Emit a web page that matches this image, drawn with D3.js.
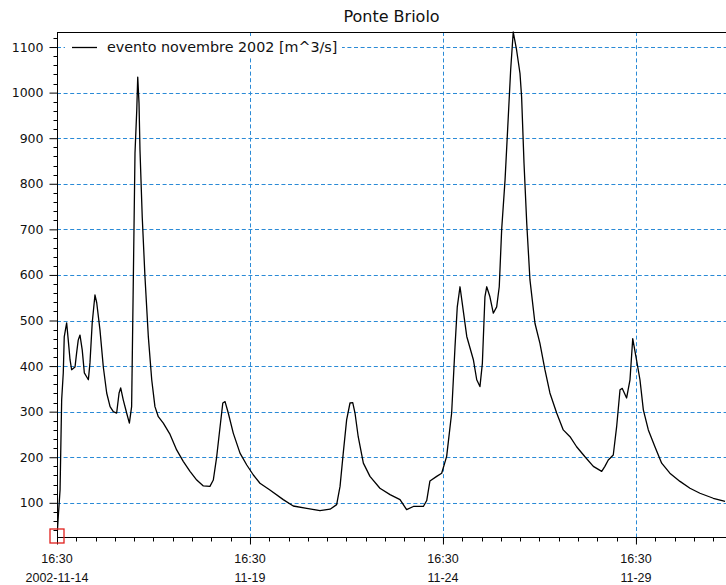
<!DOCTYPE html>
<html>
<head>
<meta charset="utf-8">
<script src="https://cdn.jsdelivr.net/npm/d3@7"></script>
<style>
  body { margin: 0; background: #fff; }
  svg { display: block; font-family: "DejaVu Sans", sans-serif; }
</style>
</head>
<body>
<svg id="mainSvg"></svg>
<script>
var WIDTH = 726;
var HEIGHT = 585;
var LEFT = 57, RIGHT = 726, TOP = 32, BOTTOM = 537;

var TITLE = "Ponte Briolo";
var SERIES_NAME = "evento novembre 2002 [m^3/s]";
var START = new Date(2002, 10, 14, 16, 30);
var END_HOURS = 416;

// hours after 2002-11-14 16:30, and discharge in m^3/s
var HOURS = [0, 0.8, 1.9, 2.9, 3.9, 4.5, 6.0, 7.0, 8.1, 9.1, 11.2, 12.2, 13.2, 14.3, 15.7, 17.0,
  18.5, 19.5, 20.5, 21.9, 23.6, 24.7, 26.7, 28.8, 30.9, 33.0, 35.0, 37.1, 38.6, 39.6, 41.2,
  43.3, 45.0, 46.4, 47.4, 48.5, 49.6, 50.2, 51.0, 51.6, 53.0, 54.7, 56.8, 58.9, 60.9, 63.0,
  66.1, 70.3, 74.4, 78.5, 82.7, 86.9, 91.0, 95.1, 97.2, 99.3, 101.4, 103.1, 104.5, 106.5,
  109.6, 113.8, 118.0, 122.1, 126.2, 132.4, 140.7, 146.9, 155.3, 163.5, 169.8, 173.9, 176.0,
  178.0, 180.1, 182.2, 183.9, 185.3, 187.3, 190.5, 194.6, 200.8, 207.1, 213.3, 217.4, 221.6,
  227.8, 229.9, 231.9, 236.1, 239.2, 242.3, 245.4, 247.5, 248.9, 250.6, 252.3, 254.8, 258.9,
  261.0, 263.0, 264.5, 266.1, 267.2, 269.2, 271.3, 273.4, 275.0, 276.5, 278.6, 280.2, 282.1,
  283.7, 285.8, 287.9, 288.9, 290.4, 292.1, 294.1, 297.2, 300.3, 303.4, 306.5, 310.7, 314.8,
  319.0, 323.1, 328.3, 333.5, 338.7, 340.7, 342.8, 345.9, 348.0, 350.1, 351.5, 354.2, 356.3,
  358.0, 360.0, 362.5, 364.6, 367.7, 371.8, 376.0, 381.1, 387.4, 393.6, 399.8, 408.1, 415.4];
var FLOW = [25, 70, 128, 326, 385, 464, 495, 457, 414, 392, 398, 429, 457, 468, 435, 385,
  376, 370, 407, 495, 556, 539, 480, 398, 341, 311, 300, 297, 341, 352, 326,
  297, 275, 311, 574, 867, 962, 1034, 977, 874, 727, 596, 464, 370, 311, 289,
  275, 250, 216, 191, 169, 150, 137, 136, 150, 201, 267, 319, 322, 297,
  253, 209, 183, 161, 143, 128, 107, 93, 88, 83, 86, 96, 136,
  209, 282, 319, 320, 297, 245, 187, 158, 132, 118, 107, 85, 92,
  92, 105, 148, 158, 165, 202, 297, 443, 530, 574, 530, 465, 414,
  370, 355, 406, 552, 574, 552, 516, 530, 574, 699, 808, 918, 1050,
  1133, 1093, 1042, 991, 845, 713, 589, 494, 450, 392, 341, 297, 260,
  245, 223, 201, 180, 169, 180, 194, 205, 267, 348, 351, 330, 370,
  460, 421, 370, 304, 260, 223, 187, 165, 147, 132, 121, 110, 103];

var Y_TICKS = [100, 200, 300, 400, 500, 600, 700, 800, 900, 1000, 1100];
var X_TICK_DAYS = [0, 5, 10, 15];
var X_TIME_LABELS = ["16:30", "16:30", "16:30", "16:30"];
var X_DATE_LABELS = ["2002-11-14", "11-19", "11-24", "11-29"];

var GRID_COLOR = "#2a8ad6";

function render() {
  var svg = d3.select("#mainSvg")
    .attr("width", WIDTH)
    .attr("height", HEIGHT);

  svg.append("rect").attr("width", WIDTH).attr("height", HEIGHT).attr("fill", "#fff");

  var data = HOURS.map(function (h, i) {
    return { t: d3.timeMinute.offset(START, Math.round(h * 60)), v: FLOW[i] };
  });

  var x = d3.scaleTime()
    .domain([START, d3.timeHour.offset(START, END_HOURS)])
    .range([LEFT, RIGHT]);
  var y = d3.scaleLinear()
    .domain(d3.extent(FLOW))
    .range([BOTTOM, TOP]);

  var majorDates = X_TICK_DAYS.map(function (d) { return d3.timeDay.offset(START, d); });
  var minorDates = d3.range(0, END_HOURS, 12).map(function (h) { return d3.timeHour.offset(START, h); });
  var minorY = d3.range(40, 1140, 20).filter(function (v) { return v % 100 !== 0; });

  // grid
  var grid = svg.append("g")
    .attr("stroke", GRID_COLOR)
    .attr("stroke-width", 1)
    .attr("stroke-dasharray", "4,2.6");
  grid.selectAll(".hgrid")
    .data(Y_TICKS)
    .enter().append("line")
    .attr("class", "hgrid")
    .attr("x1", LEFT).attr("x2", RIGHT)
    .attr("y1", function (d) { return Math.round(y(d)) + 0.5; })
    .attr("y2", function (d) { return Math.round(y(d)) + 0.5; });
  grid.selectAll(".vgrid")
    .data(majorDates.slice(1))
    .enter().append("line")
    .attr("class", "vgrid")
    .attr("y1", TOP).attr("y2", BOTTOM)
    .attr("x1", function (d) { return Math.round(x(d)) + 0.5; })
    .attr("x2", function (d) { return Math.round(x(d)) + 0.5; });

  // series line
  svg.append("clipPath").attr("id", "plotClip")
    .append("rect")
    .attr("x", LEFT).attr("y", TOP - 1)
    .attr("width", RIGHT - LEFT).attr("height", BOTTOM - TOP + 1);

  var line = d3.line()
    .x(function (d) { return x(d.t); })
    .y(function (d) { return y(d.v); });

  svg.append("path")
    .datum(data)
    .attr("clip-path", "url(#plotClip)")
    .attr("d", line)
    .attr("fill", "none")
    .attr("stroke", "#000")
    .attr("stroke-width", 1.3)
    .attr("stroke-linejoin", "round");

  // legend
  var legend = svg.append("g");
  legend.append("rect")
    .attr("x", 65).attr("y", 37)
    .attr("width", 277).attr("height", 20)
    .attr("fill", "#fff");
  legend.append("line")
    .attr("x1", 72).attr("x2", 97)
    .attr("y1", 47.5).attr("y2", 47.5)
    .attr("stroke", "#000").attr("stroke-width", 1.3);
  legend.append("text")
    .attr("x", 107).attr("y", 47)
    .attr("dy", "0.36em")
    .attr("font-size", 14.3)
    .attr("fill", "#111")
    .text(SERIES_NAME);

  // y axis
  var yAxis = svg.append("g")
    .attr("transform", "translate(" + (LEFT + 0.5) + ",0)")
    .call(d3.axisLeft(y)
      .tickValues(Y_TICKS)
      .tickSize(8)
      .tickPadding(6)
      .tickFormat(d3.format("d")));
  yAxis.select(".domain").attr("d", "M0," + TOP + "V" + BOTTOM);
  yAxis.selectAll("text").attr("font-size", 12.5).attr("font-family", "DejaVu Sans").attr("fill", "#111");
  yAxis.selectAll(".minor")
    .data(minorY)
    .enter().append("line")
    .attr("class", "minor")
    .attr("stroke", "#000")
    .attr("x1", -4).attr("x2", 0)
    .attr("y1", function (d) { return Math.round(y(d)) + 0.5; })
    .attr("y2", function (d) { return Math.round(y(d)) + 0.5; });

  // x axis
  var xAxis = svg.append("g")
    .attr("transform", "translate(0," + (BOTTOM + 0.5) + ")")
    .call(d3.axisBottom(x)
      .tickValues(majorDates)
      .tickSize(7)
      .tickFormat(function () { return ""; }));
  xAxis.select(".domain").attr("d", "M" + LEFT + ",0H" + RIGHT);
  xAxis.selectAll(".minor")
    .data(minorDates)
    .enter().append("line")
    .attr("class", "minor")
    .attr("stroke", "#000")
    .attr("y1", 0).attr("y2", 4)
    .attr("x1", function (d) { return Math.round(x(d)) + 0.5; })
    .attr("x2", function (d) { return Math.round(x(d)) + 0.5; });
  var labels = xAxis.selectAll(".xlabel")
    .data(majorDates)
    .enter().append("text")
    .attr("class", "xlabel")
    .attr("text-anchor", "middle")
    .attr("font-size", 12.5)
    .attr("fill", "#111");
  labels.append("tspan")
    .attr("x", function (d) { return x(d); })
    .attr("y", 25)
    .text(function (d, i) { return X_TIME_LABELS[i]; });
  labels.append("tspan")
    .attr("x", function (d) { return x(d); })
    .attr("y", 44)
    .text(function (d, i) { return X_DATE_LABELS[i]; });

  // top frame
  svg.append("line")
    .attr("x1", LEFT).attr("x2", RIGHT)
    .attr("y1", TOP + 0.5).attr("y2", TOP + 0.5)
    .attr("stroke", "#000");

  // title
  svg.append("text")
    .attr("x", (LEFT + RIGHT) / 2)
    .attr("y", 22)
    .attr("text-anchor", "middle")
    .attr("font-size", 16)
    .attr("fill", "#111")
    .text(TITLE);

  // red cursor square on the first sample
  var first = data[0];
  svg.append("rect")
    .attr("x", x(first.t) - 7)
    .attr("y", y(first.v) - 8)
    .attr("width", 14).attr("height", 14)
    .attr("fill", "none")
    .attr("stroke", "#e0201c")
    .attr("stroke-width", 1.3);
}

render();
</script>
</body>
</html>
